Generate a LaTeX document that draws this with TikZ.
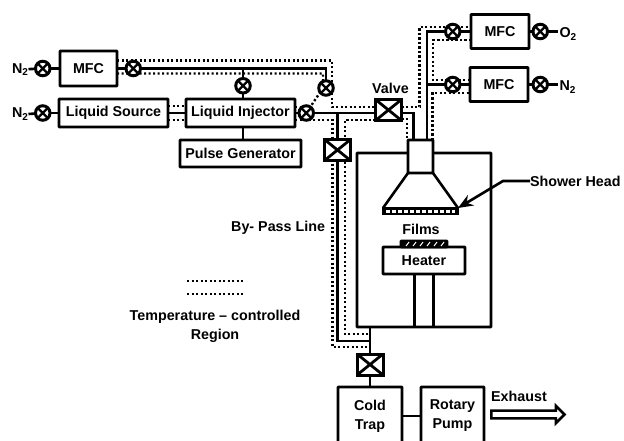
\documentclass[tikz,border=0pt]{standalone}
\usepackage{fontspec}
\setmainfont{Liberation Sans}
\usepackage{tikz}
\usetikzlibrary{shapes.arrows,arrows.meta,positioning,backgrounds}

\begin{document}
\begin{tikzpicture}[
    x=1pt, y=-1pt,
    node distance=10pt,
    every node/.style={font=\bfseries\fontsize{14.3}{19}\selectfont},
    box/.style={rectangle, draw, line width=2.6pt, fill=white, align=center, inner sep=0pt, outer sep=0pt, rounded corners=0.5pt},
    valve/.style={circle, draw, line width=3pt, fill=white, inner sep=0pt, outer sep=0pt, minimum size=14.5pt,
        path picture={\draw[line width=2.4pt] (path picture bounding box.north west) -- (path picture bounding box.south east)
            (path picture bounding box.north east) -- (path picture bounding box.south west);}},
    gate/.style={rectangle, draw, line width=3pt, fill=white, inner sep=0pt, outer sep=0pt, minimum width=26pt, minimum height=21pt,
        path picture={\draw[line width=2.8pt] (path picture bounding box.north west) -- (path picture bounding box.south east)
            (path picture bounding box.north east) -- (path picture bounding box.south west);}},
    lab/.style={inner sep=0pt, outer sep=0pt, align=center},
    pipe/.style={line width=2.6pt},
    hot/.style={line width=2.4pt, dash pattern=on 2.2pt off 2.3pt}
]
    \useasboundingbox (0,0) rectangle (624,440);

    % gas and liquid feed
    \node[box, minimum width=57pt, minimum height=35pt] (mfcA) at (88.5,68.5) {MFC};
    \node[valve, left=10pt of mfcA] (valveA) {};
    \node[valve, right=9pt of mfcA] (valveB) {};
    \node[lab, left=7pt of valveA, yshift=-1pt] (gasA) {N\textsubscript{2}};

    \node[box, minimum width=109pt, minimum height=28pt] (source) at (113.5,113) {Liquid Source};
    \node[valve, left=9pt of source] (valveC) {};
    \node[lab, left=7pt of valveC, yshift=-1pt] (gasB) {N\textsubscript{2}};
    \node[box, minimum width=109pt, minimum height=28pt, right=18pt of source] (injector) {Liquid Injector};
    \node[box, minimum width=121pt, minimum height=27pt, below=13pt of injector] (pulse) {Pulse Generator};
    \node[valve, above=6pt of injector, xshift=2.5pt] (valveD) {};
    \node[valve, right=4pt of injector] (valveE) {};
    \node[valve] (valveF) at (326,88) {};

    % gates
    \node[gate] (gateA) at (388.5,110) {};
    \node[lab, above=5.5pt of gateA, xshift=2pt] (valvelab) {Valve};
    \node[gate] (gateB) at (337.5,150) {};

    % upper right gas lines
    \node[box, minimum width=58pt, minimum height=34pt] (mfcB) at (500,31.5) {MFC};
    \node[valve, left=11pt of mfcB] (valveG) {};
    \node[valve, right=4pt of mfcB] (valveH) {};
    \node[lab, right=12pt of valveH, yshift=-2.5pt] (gasC) {O\textsubscript{2}};
    \node[box, minimum width=58pt, minimum height=34pt] (mfcC) at (499,84.5) {MFC};
    \node[valve, left=10pt of mfcC] (valveI) {};
    \node[valve, right=5pt of mfcC] (valveJ) {};
    \node[lab, right=12pt of valveJ, yshift=-2.5pt] (gasD) {N\textsubscript{2}};

    % reactor
    \node[box, fill=none, minimum width=134pt, minimum height=174pt] (chamber) at (424,240) {};
    \node[box, minimum width=25pt, minimum height=33pt] (neck) at (420.5,156.5) {};
    \coordinate (neckR) at ([xshift=6.5pt]neck.north);
    \node[box, fill=black, minimum width=75pt, minimum height=6pt, rounded corners=0pt] (strip) at (420.5,211) {};
    \node[box, minimum width=82pt, minimum height=27pt] (heater) at (424,260.5) {Heater};
    \node[box, fill=black, minimum width=46pt, minimum height=6pt, above=0pt of heater] (film) {};
    \node[lab, above=6.5pt of film, xshift=-3pt] (filmlab) {Films};
    \node[lab, anchor=west] (headlab) at (530,181) {Shower Head};
    \coordinate (headknee) at (503,181);

    % exhaust side
    \node[gate] (gateC) at (370,364.5) {};
    \node[box, minimum width=64pt, minimum height=58pt] (trap) at (370,416) {Cold\\Trap};
    \node[box, minimum width=63pt, minimum height=58pt, right=19pt of trap] (pump) {Rotary\\Pump};
    \node[single arrow, draw, line width=2.6pt, inner sep=2pt, outer sep=0pt, minimum width=17pt, minimum height=73pt,
        single arrow head extend=4pt, single arrow head indent=0pt] (exhaust) at (526,414.5) {};
    \node[lab] (exhaustlab) at (519,396) {Exhaust};

    % notes
    \node[lab, anchor=east] (bypass) at (325,228) {By- Pass Line};
    \node[lab] (note) at (215,326) {Temperature -- controlled\\Region};
    \coordinate (legA) at (187,281);
    \coordinate (legB) at (243,281);
    \coordinate (legC) at (187,294);
    \coordinate (legD) at (243,294);

    \begin{scope}[on background layer]
        % heated sheath
        \draw[hot] ([yshift=8pt]mfcA.east) -| ([xshift=6pt]valveF.center) |- ([yshift=3pt]gateA.west);
        \draw[hot] ([yshift=-5pt]mfcA.east) -| ([xshift=-3pt]valveF.center) -- (valveE.center);
        \draw[hot] ([yshift=7pt]source.east) -- ([yshift=7pt]injector.west);
        \draw[hot] ([yshift=-7pt]source.east) -- ([yshift=-7pt]injector.west);
        \draw[hot] ([yshift=6pt]injector.east) -- ([yshift=6pt]valveE.center);
        \draw[hot] ([yshift=-7pt]injector.east) -| ([xshift=-5pt]gateB.center) |- ([yshift=7pt]gateC.north);
        \draw[hot] ([yshift=-10pt]gateA.west) -| ([xshift=7.5pt]gateB.center) |- ([yshift=20pt]gateC.north);
        \draw[hot] ([yshift=-9pt]gateA.east) -| ([xshift=-13.5pt]neck.north);
        \draw[hot] ([yshift=3pt]gateA.east) -- ++(18,0) |- ([yshift=4.5pt]mfcB.west);
        \draw[hot] ([yshift=-8.5pt]mfcB.west) -- ++(-38,0) |- ([yshift=4.5pt]mfcC.west);
        \draw[hot] ([xshift=12pt]neck.north) |- ([yshift=-8.5pt]mfcC.west);
        % process lines
        \draw[pipe] (valveB.center) -- (mfcA.east);
        \draw[pipe] (valveB.center) -| (valveF.center);
        \draw[pipe] (valveD.center) -- (valveD.center |- valveB.center);
        \draw[pipe] (valveE.center) -- ([yshift=-3pt]gateA.west);
        \draw[pipe] ([yshift=-3pt]gateA.east) -| ([xshift=-7pt]neck.north);
        \draw[pipe] (gateB.center) -- (gateB.center |- valveE.center);
        \draw[pipe] (gateB.center) |- ([yshift=13pt]gateC.north);
        \draw[pipe] (neckR) |- (valveG.center);
        \draw[pipe] (valveI.center) -- (valveI.center -| neckR);
    \end{scope}

    \draw[pipe] (gasA) -- (valveA);
    \draw[pipe] (valveA) -- (mfcA);
    \draw[pipe] (gasB.east) -- (valveC);
    \draw[pipe] (valveC) -- (source);
    \draw[pipe] (source) -- (injector);
    \draw[pipe] (injector) -- (valveE);
    \draw[pipe] (valveD.south) -- (valveD.south |- injector.north);
    \draw[pipe] (valveD.south |- injector.south) -- (valveD.south |- pulse.north);
    \draw[pipe] (valveG) -- (mfcB);
    \draw[pipe] (mfcB) -- (valveH);
    \draw[pipe] (valveH.east) -- ([xshift=-2pt]valveH.east -| gasC.west);
    \draw[pipe] (valveI) -- (mfcC);
    \draw[pipe] (mfcC) -- (valveJ);
    \draw[pipe] (valveJ.east) -- ([xshift=-2pt]valveJ.east -| gasD.west);
    \draw[pipe] (gateC.north |- chamber.south) -- (gateC.north);
    \draw[pipe] (gateC.south) -- (trap.north);
    \draw[pipe] (trap) -- (pump);

    % shower head and heater
    \draw[pipe] (neck.south west) -- (strip.north west);
    \draw[pipe] (neck.south east) -- (strip.north east);
    \draw[white, line width=3pt, dash pattern=on 3.5pt off 2.5pt] ([xshift=3pt]strip.west) -- ([xshift=-3pt]strip.east);
    \foreach \i in {-18,-11,-4,3,10,17}
        \draw[white, line width=1pt] ([xshift=\i pt, yshift=1pt]film.south) -- ++(3,-4);
    \draw[pipe] ([xshift=-9.5pt]heater.south) -- ([xshift=-9.5pt]heater.south |- chamber.south);
    \draw[pipe] ([xshift=9.5pt]heater.south) -- ([xshift=9.5pt]heater.south |- chamber.south);
    \draw[pipe, -{Stealth[length=15pt, width=12pt]}] (headlab.west) -- (headknee) -- (strip.north east);

    % legend
    \draw[hot] (legA) -- (legB);
    \draw[hot] (legC) -- (legD);
\end{tikzpicture}
\end{document}
